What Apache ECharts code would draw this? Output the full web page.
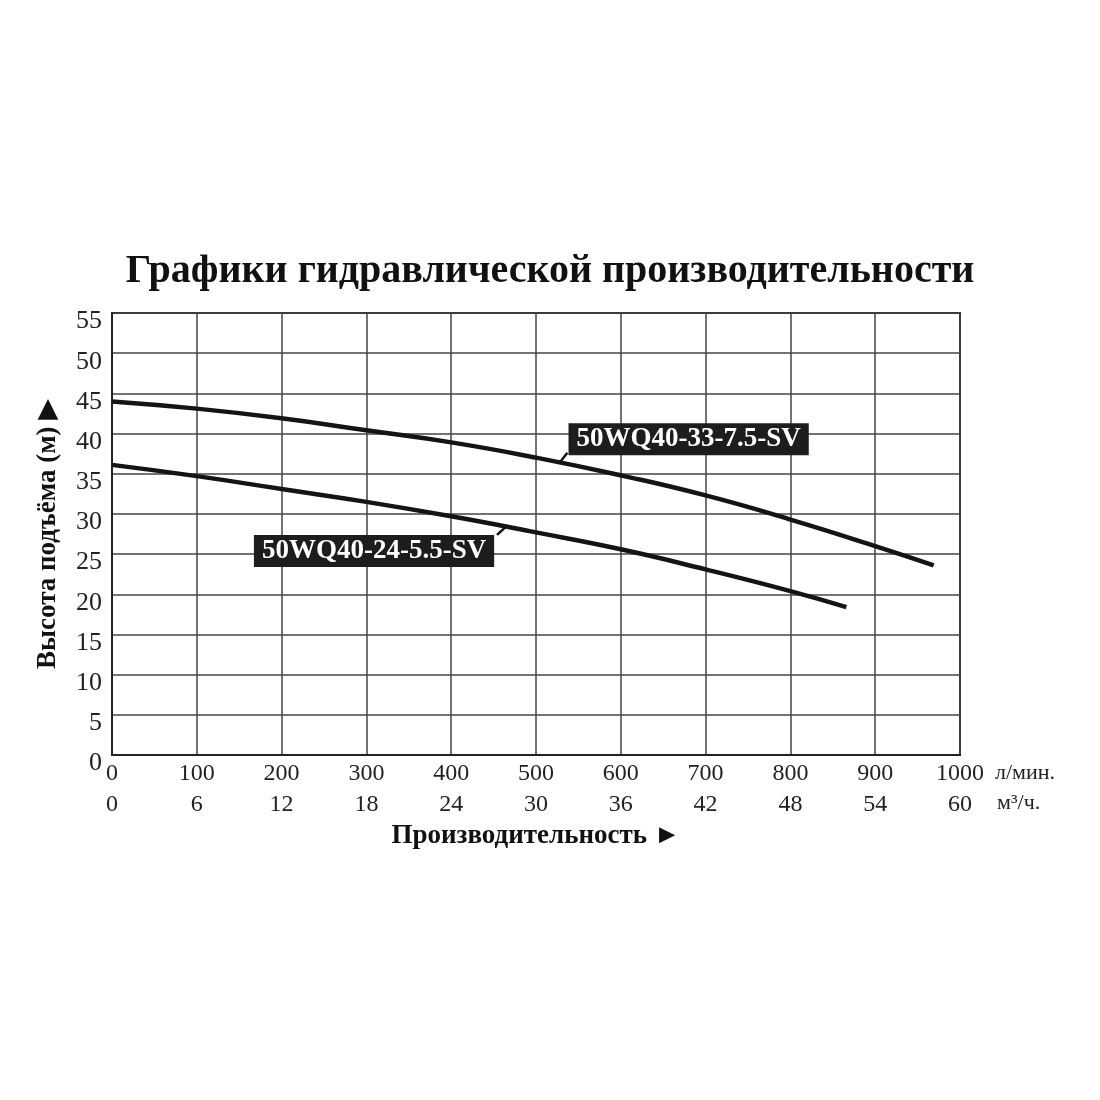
<!DOCTYPE html>
<html>
<head>
<meta charset="utf-8">
<style>html,body{margin:0;padding:0;background:#fff;}#c{width:1100px;height:1100px;}</style>
<script src="https://cdn.jsdelivr.net/npm/echarts@6/dist/echarts.min.js"></script>
</head>
<body>
<div id="c"></div>
<script>
const titleText = 'Графики гидравлической производительности';
const xName = 'Производительность ►';
const yName = 'Высота подъёма (м) ▶';
const flowLmin = [0, 100, 200, 300, 400, 500, 600, 700, 800, 900, 1000];
const flowM3h = [0, 6, 12, 18, 24, 30, 36, 42, 48, 54, 60];
const headTicks = [0, 5, 10, 15, 20, 25, 30, 35, 40, 45, 50, 55];
const pumpA = '50WQ40-33-7.5-SV';
const pumpB = '50WQ40-24-5.5-SV';
const curveA = [[0,44.0],[100,43.1],[200,41.9],[300,40.4],[400,38.9],[500,37.0],[600,34.8],[700,32.3],[800,29.3],[900,26.0],[969,23.6]];
const curveB = [[0,36.1],[100,34.7],[200,33.1],[300,31.5],[400,29.7],[500,27.7],[600,25.6],[700,23.1],[800,20.4],[866,18.4]];
const labelA = [680, 39.3];
const labelB = [309, 25.4];
const pointerA = [[528, 36.4], [537, 37.6]];
const pointerB = [[454, 27.4], [463.4, 28.3]];

const serif = '"Liberation Serif", "DejaVu Serif", serif';
const chart = echarts.init(document.getElementById('c'));

function tag(name, pos, ptr) {
  return {
    markPoint: {
      symbol: 'rect', symbolSize: 0, silent: true,
      data: [{coord: pos}],
      label: {
        show: true, position: 'inside', formatter: name,
        color: '#fff', backgroundColor: '#1d1d1d',
        fontFamily: serif, fontWeight: 'bold', fontSize: 27,
        padding: [3, 8, 2, 8], lineHeight: 27
      }
    },
    markLine: {
      symbol: 'none', silent: true, animation: false,
      lineStyle: {color: '#111', width: 2.5, type: 'solid'},
      label: {show: false},
      data: [[{coord: ptr[0]}, {coord: ptr[1]}]]
    }
  };
}

chart.setOption({
  animation: false,
  backgroundColor: '#fff',
  title: {
    text: titleText, left: 'center', top: 247,
    textStyle: {fontFamily: serif, fontWeight: 'bold', fontSize: 40, color: '#111'}
  },
  grid: {left: 112, right: 140, top: 313, bottom: 345, show: true, borderColor: '#222', borderWidth: 2},
  xAxis: [{
    type: 'value', min: 0, max: 1000, interval: 100, position: 'bottom',
    name: xName, nameLocation: 'middle', nameGap: 68,
    nameTextStyle: {fontFamily: serif, fontWeight: 'bold', fontSize: 27, color: '#111'},
    axisLine: {show: true, lineStyle: {color: '#222', width: 2}},
    axisTick: {show: false},
    axisLabel: {fontFamily: serif, fontSize: 24, color: '#222', margin: 7,
      customValues: flowLmin, formatter: v => String(v)},
    splitLine: {show: true, lineStyle: {color: '#444', width: 1.5}}
  }, {
    type: 'value', min: 0, max: 60, interval: 6, position: 'bottom', offset: 31,
    axisLine: {show: false}, axisTick: {show: false},
    axisLabel: {fontFamily: serif, fontSize: 24, color: '#222', margin: 7,
      customValues: flowM3h, formatter: v => String(v)},
    splitLine: {show: false}
  }],
  yAxis: {
    type: 'value', min: 0, max: 55, interval: 5,
    name: yName, nameLocation: 'middle', nameGap: 50, nameRotate: 90,
    nameTextStyle: {fontFamily: serif, fontWeight: 'bold', fontSize: 27, color: '#111'},
    axisLine: {show: true, lineStyle: {color: '#222', width: 2}},
    axisTick: {show: false},
    axisLabel: {fontFamily: serif, fontSize: 26, color: '#222', margin: 10,
      verticalAlign: 'top', lineHeight: 17, customValues: headTicks},
    splitLine: {show: true, lineStyle: {color: '#444', width: 1.5}}
  },
  graphic: [
    {type: 'text', left: 995, top: 762, style: {text: 'л/мин.', font: '22px ' + serif, fill: '#222'}},
    {type: 'text', left: 997, top: 792, style: {text: 'м³/ч.', font: '22px ' + serif, fill: '#222'}}
  ],
  series: [
    Object.assign({
      type: 'line', name: pumpA, data: curveA, smooth: true, symbol: 'none',
      lineStyle: {color: '#141414', width: 4.5}, z: 3
    }, tag(pumpA, labelA, pointerA)),
    Object.assign({
      type: 'line', name: pumpB, data: curveB, smooth: true, symbol: 'none',
      lineStyle: {color: '#141414', width: 4.5}, z: 3
    }, tag(pumpB, labelB, pointerB))
  ]
});
</script>
</body>
</html>
